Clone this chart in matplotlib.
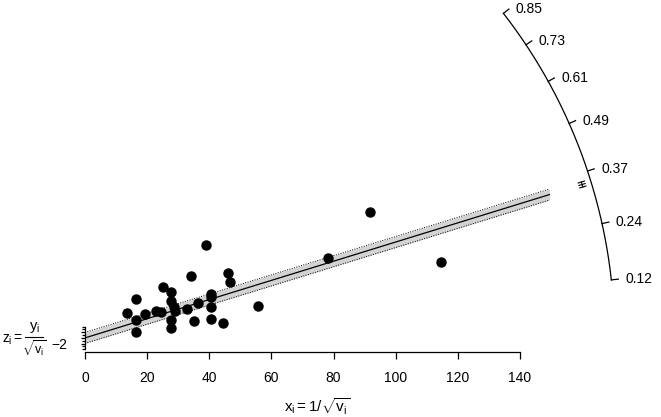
import numpy as np
import matplotlib
matplotlib.use('Agg')
import matplotlib.pyplot as plt
from matplotlib.lines import Line2D

plt.rcParams['font.family'] = ['Liberation Sans', 'DejaVu Sans']
plt.rcParams['mathtext.fontset'] = 'custom'
plt.rcParams['mathtext.rm'] = 'Liberation Sans'
plt.rcParams['mathtext.it'] = 'Liberation Sans'
plt.rcParams['mathtext.sf'] = 'Liberation Sans'

# studies: precision (x) and standardised effect (z)
xi = [38.9, 34.0, 45.9, 46.7, 16.3, 25.1, 27.6, 27.6, 13.4, 16.3,
      16.3, 19.3, 22.9, 24.5, 28.8, 29.1, 27.6, 27.6, 32.7, 35.2,
      36.5, 40.7, 40.7, 40.7, 40.7, 44.3, 55.6, 78.1, 91.6, 114.7]
zi = [32.9, 22.1, 23.1, 19.7, 13.8, 17.9, 16.4, 13.1, 8.9, 6.2,
      2.2, 8.4, 9.5, 9.3, 10.8, 9.5, 6.3, 3.4, 10.2, 6.0,
      12.5, 15.6, 14.4, 10.9, 6.6, 5.2, 11.2, 28.4, 44.5, 26.8]

beta = 0.34
ci_lb = 0.334
ci_ub = 0.346
zcrit = 1.96
x_max = 149.5

arc_ticks = [0.1214, 0.2436, 0.3658, 0.4880, 0.6102, 0.7324, 0.8546]
arc_labels = ['0.12', '0.24', '0.37', '0.49', '0.61', '0.73', '0.85']
xticks = [0, 20, 40, 60, 80, 100, 120, 140]

W, H = 661, 417
fig = plt.figure(figsize=(W / 100, H / 100), dpi=100)
ax_l, ax_w = 85, 464.5
ax_top, ax_bot = 0, 352
ax = fig.add_axes([ax_l / W, (H - ax_bot) / H, ax_w / W, (ax_bot - ax_top) / H])
zmin = -5
zmax = zmin + (ax_bot - ax_top) / 2.82
ax.set_xlim(0, x_max)
ax.set_ylim(zmin, zmax)

# pixel aspect so the arc is a circle
k = ((ax_bot - ax_top) / (zmax - zmin)) / (ax_w / x_max)

# band, regression line and its limits
xs = np.array([0, x_max])
ax.fill_between(xs, beta * xs - zcrit, beta * xs + zcrit, color='#d3d3d3', lw=0)
ax.plot(xs, beta * xs, color='black', lw=0.9)
ax.plot(xs, beta * xs - zcrit, color='black', lw=0.7, ls=(0, (1, 1.5)))
ax.plot(xs, beta * xs + zcrit, color='black', lw=0.7, ls=(0, (1, 1.5)))

def arc_pts(a, r):
    a = np.asarray(a, dtype=float)
    x = np.sqrt(r ** 2 / (1 + (a * k) ** 2))
    return x, x * a

# arc with effect size scale
r_arc = 1.14 * x_max
aa = np.linspace(arc_ticks[0], arc_ticks[-1], 200)
ax.plot(*arc_pts(aa, r_arc), color='black', lw=0.9, clip_on=False)
r_out = r_arc + 0.015 * x_max
for a, lab in zip(arc_ticks, arc_labels):
    x0, z0 = arc_pts(a, r_arc)
    x1, z1 = arc_pts(a, r_out)
    ax.plot([x0, x1], [z0, z1], color='black', lw=0.9, clip_on=False)
    ax.annotate(lab, (x1, z1), xytext=(5, 0), textcoords='offset points',
                ha='left', va='center', fontsize=10, annotation_clip=False)

# CI of summary estimate on the arc
r_ci = 1.12 * x_max
cc = np.linspace(ci_lb, ci_ub, 20)
ax.plot(*arc_pts(cc, r_ci), color='black', lw=0.8, clip_on=False)
for a in [ci_lb, beta, ci_ub]:
    x0, z0 = arc_pts(a, r_ci - 0.007 * x_max)
    x1, z1 = arc_pts(a, r_ci + 0.007 * x_max)
    ax.plot([x0, x1], [z0, z1], color='black', lw=0.8, clip_on=False)

ax.plot(xi, zi, 'o', color='black', ms=6.5, clip_on=False)

# axes
for s in ['top', 'right']:
    ax.spines[s].set_visible(False)
ax.spines['bottom'].set_bounds(0, 140)
ax.spines['left'].set_bounds(-4, 4)
ax.spines['bottom'].set_linewidth(0.9)
ax.spines['left'].set_linewidth(0.9)
ax.set_xticks(xticks)
ax.set_xticklabels([str(t) for t in xticks])
ax.set_yticks([-2, 0, 2])
ax.set_yticklabels(['\u22122', '', ''])
ax.set_yticks(list(range(-4, 5)), minor=True)
ax.tick_params(axis='x', length=5, width=0.9, pad=9, labelsize=10)
ax.tick_params(axis='y', which='major', length=3, width=0.9, pad=10, labelsize=10)
ax.tick_params(axis='y', which='minor', length=2.5, width=0.9)

fig.text((ax_l + ax_w / 2) / W, (H - 407) / H, r'$x_i = 1/\sqrt{v_i}$',
         ha='center', va='center', fontsize=11)

# z label built as a stacked fraction so it stays compact
fig.text(2 / W, (H - 340) / H, r'$z_i =$', ha='left', va='center', fontsize=10)
fig.add_artist(Line2D([25 / W, 43 / W], [(H - 337) / H, (H - 337) / H],
                      color='black', lw=0.8))
fig.text(34 / W, (H - 335) / H, r'$y_i$', ha='center', va='bottom', fontsize=10.5)
fig.text(34.5 / W, (H - 339) / H, r'$\sqrt{v_i}$', ha='center', va='top', fontsize=9)

fig.savefig('out.png', dpi=100)
